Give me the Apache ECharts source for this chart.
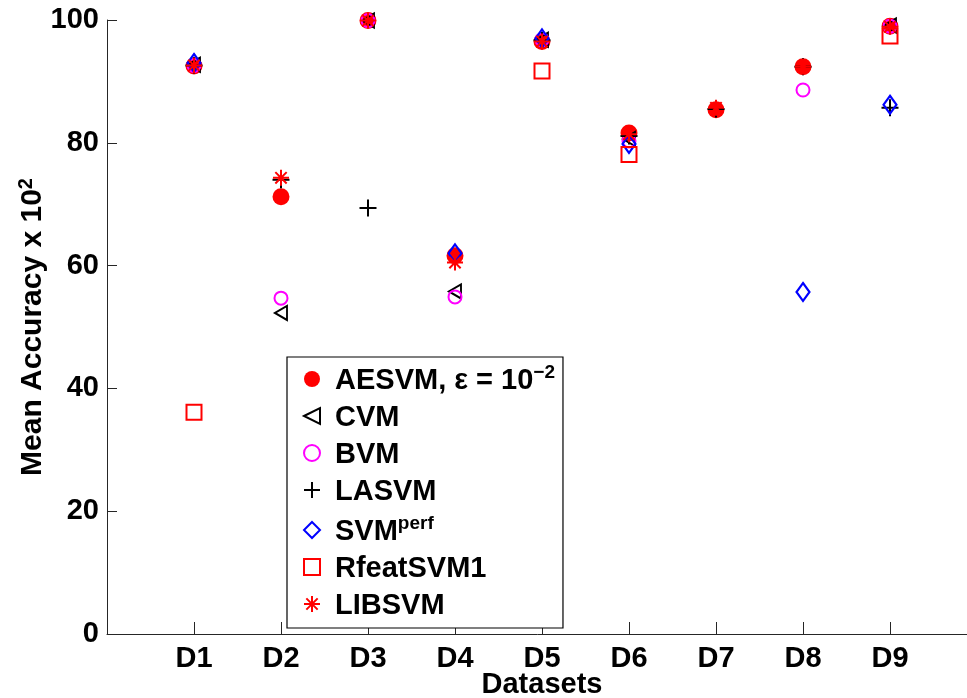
<!DOCTYPE html>
<html>
<head>
<meta charset="utf-8">
<script src="https://cdn.jsdelivr.net/npm/echarts@6/dist/echarts.min.js"></script>
<style>html,body{margin:0;padding:0;background:#fff;}#c{width:967px;height:698px;}</style>
</head>
<body>
<div id="c"></div>
<script>
// Datasets (x positions 1..9)
const categories = ['D1','D2','D3','D4','D5','D6','D7','D8','D9'];
const yTicks = [0, 20, 40, 60, 80, 100];
// Mean accuracy x 10^2 per method (null = not shown)
const aesvm   = [92.5, 71.2, 99.9, 61.6, 96.5, 81.6, 85.4, 92.4, 99.0];
const cvm     = [92.7, 52.3, 99.9, 55.8, 96.8, 80.6, null, null, 99.1];
const bvm     = [92.6, 54.7, 99.9, 54.9, 96.8, 80.3, null, 88.6, 99.0];
const lasvm   = [92.6, 74.0, 69.4, null, 96.7, 81.1, 85.5, 92.4, 85.7];
const svmperf = [93.0, null, null, 62.0, 97.0, 79.8, null, 55.7, 86.2];
const rfeat   = [36.1, null, null, null, 91.7, 78.1, null, null, 97.4];
const libsvm  = [92.6, 74.3, 99.9, 60.5, 96.5, 81.4, 85.7, 92.4, 98.9];

const toPts = arr => arr.map((v, i) => [i + 1, v]).filter(p => p[1] !== null);

const plusPath = 'path://M0,-10L0,10M-10,0L10,0';
const starPath = 'path://M0,-10L0,10M-10,0L10,0M-7.07,-7.07L7.07,7.07M-7.07,7.07L7.07,-7.07';
const leftTriPath = 'path://M-10,0L10,-10L10,10Z';

const FONT = 'Liberation Sans';
const FS = 29;

const series = [
  { name: 'AESVM', data: toPts(aesvm), symbol: 'circle', symbolSize: 17,
    itemStyle: { color: '#ff0000', borderWidth: 0, opacity: 1 } },
  { name: 'CVM', data: toPts(cvm), symbol: leftTriPath, symbolSize: [12, 14],
    itemStyle: { color: 'rgba(0,0,0,0)', borderColor: '#000000', borderWidth: 2, opacity: 1 } },
  { name: 'BVM', data: toPts(bvm), symbol: 'circle', symbolSize: 13,
    itemStyle: { color: 'rgba(0,0,0,0)', borderColor: '#ff00ff', borderWidth: 2, opacity: 1 } },
  { name: 'LASVM', data: toPts(lasvm), symbol: plusPath, symbolSize: 17,
    itemStyle: { color: 'rgba(0,0,0,0)', borderColor: '#000000', borderWidth: 2, opacity: 1 } },
  { name: 'SVMperf', data: toPts(svmperf), symbol: 'diamond', symbolSize: [13, 18],
    itemStyle: { color: 'rgba(0,0,0,0)', borderColor: '#0000ff', borderWidth: 2.2, opacity: 1 } },
  { name: 'RfeatSVM1', data: toPts(rfeat), symbol: 'rect', symbolSize: 15,
    itemStyle: { color: 'rgba(0,0,0,0)', borderColor: '#ff0000', borderWidth: 2, opacity: 1 } },
  { name: 'LIBSVM', data: toPts(libsvm), symbol: starPath, symbolSize: 16,
    itemStyle: { color: 'rgba(0,0,0,0)', borderColor: '#ff0000', borderWidth: 2, opacity: 1 } }
].map(s => Object.assign({ type: 'scatter', emphasis: { disabled: true } }, s));

const legendLabels = {
  'AESVM': '{t|AESVM, ε = 10}{s|−2}',
  'CVM': '{t|CVM}',
  'BVM': '{t|BVM}',
  'LASVM': '{t|LASVM}',
  'SVMperf': '{t|SVM}{s|perf}',
  'RfeatSVM1': '{t|RfeatSVM1}',
  'LIBSVM': '{t|LIBSVM}'
};

const chart = echarts.init(document.getElementById('c'), null, { renderer: 'canvas' });
chart.setOption({
  animation: false,
  backgroundColor: '#ffffff',
  grid: { left: 107, top: 20, width: 870, height: 614, containLabel: false, outerBoundsMode: 'none' },
  xAxis: {
    type: 'value', min: 0, max: 10, interval: 1,
    name: 'Datasets', nameLocation: 'middle', nameGap: 36, nameMoveOverlap: false,
    nameTextStyle: { fontFamily: FONT, fontWeight: 'bold', fontSize: FS, color: '#000' },
    axisLine: { show: true, lineStyle: { color: '#262626', width: 1 } },
    axisTick: { show: true, inside: true, length: 12, lineStyle: { color: '#262626' } },
    splitLine: { show: false },
    axisLabel: {
      margin: 10, fontFamily: FONT, fontWeight: 'bold', fontSize: FS, color: '#000',
      formatter: v => categories[v - 1] || ''
    }
  },
  yAxis: {
    type: 'value', min: yTicks[0], max: yTicks[yTicks.length - 1], interval: 20,
    name: '{t|Mean Accuracy x 10}{s|2}', nameLocation: 'middle', nameGap: 59, nameMoveOverlap: false,
    nameTextStyle: {
      color: '#000',
      rich: {
        t: { fontFamily: FONT, fontWeight: 'bold', fontSize: 30, color: '#000', lineHeight: 32, verticalAlign: 'bottom' },
        s: { fontFamily: FONT, fontWeight: 'bold', fontSize: 20, color: '#000', lineHeight: 32, verticalAlign: 'top' }
      }
    },
    axisLine: { show: true, lineStyle: { color: '#262626', width: 1 } },
    axisTick: { show: true, inside: true, length: 10, lineStyle: { color: '#262626' } },
    splitLine: { show: false },
    axisLabel: { margin: 8, fontFamily: FONT, fontWeight: 'bold', fontSize: FS, color: '#000' }
  },
  legend: {
    orient: 'vertical', left: 287, top: 357,
    backgroundColor: '#ffffff', borderColor: '#000000', borderWidth: 1.2, borderRadius: 0,
    padding: [6, 8, 8, 16],
    itemWidth: 16, itemHeight: 16, itemGap: 8,
    selectedMode: false,
    formatter: name => legendLabels[name],
    textStyle: {
      padding: [0, 0, 0, 10],
      rich: {
        t: { fontFamily: FONT, fontWeight: 'bold', fontSize: FS, color: '#000', lineHeight: 32, verticalAlign: 'bottom' },
        s: { fontFamily: FONT, fontWeight: 'bold', fontSize: 19, color: '#000', lineHeight: 32, verticalAlign: 'top' }
      }
    },
    data: series.map(s => s.name)
  },
  series: series
});
</script>
</body>
</html>
